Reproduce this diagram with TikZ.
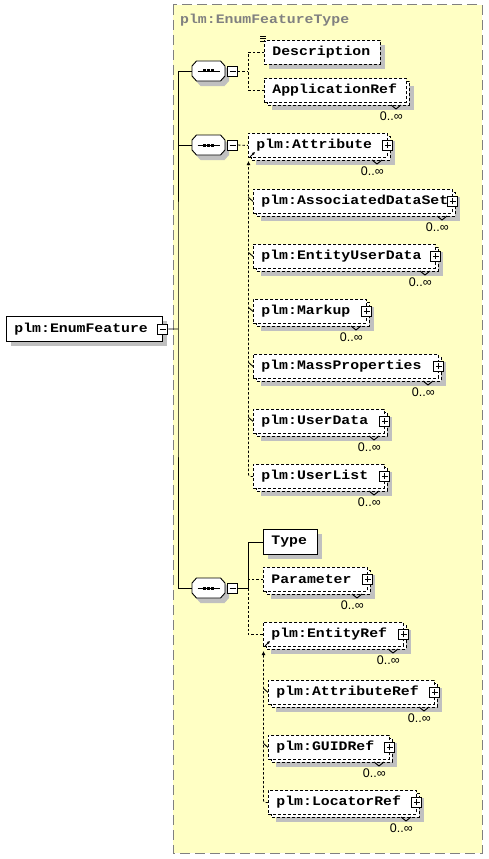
\documentclass[tikz,border=0pt]{standalone}
\usepackage{fontspec}
\usetikzlibrary{shadows,arrows.meta}
\newfontfamily\xsdfam[FakeStretch=1.14]{Liberation Mono}
\newfontfamily\occfam{Liberation Sans}
\newcommand\xsdf{\xsdfam\bfseries\fontsize{13}{14}\selectfont}
\newcommand\occf{\occfam\fontsize{12.5}{13}\selectfont}
\definecolor{yel}{HTML}{FFFFC4}
\definecolor{shadowc}{HTML}{C0C0C0}
\definecolor{bordergray}{HTML}{808080}
\tikzset{
  sconn/.style={line width=0.9pt},
  conn/.style={line width=0.9pt, dash pattern=on 2.5pt off 2pt},
  shad/.style={drop shadow={shadow xshift=5pt, shadow yshift=-5pt, fill=shadowc, opacity=1}},
  ebox/.style={draw, fill=white, line width=0.9pt, inner xsep=8pt, inner ysep=0pt, align=left, font=\xsdf, minimum height=24pt},
  optbox/.style={ebox, dash pattern=on 3pt off 2pt},
  reqbox/.style={ebox, shad},
  dbox/.style={draw, fill=white, line width=0.9pt, dash pattern=on 3pt off 2pt},
  pmbox/.style={draw, fill=white, line width=0.9pt, minimum size=10pt, inner sep=0pt},
  seqnode/.style={rectangle, minimum width=33pt, minimum height=20pt, inner sep=0pt},
  occ/.style={font=\occf, inner sep=0pt, anchor=east},
  ybox/.style={fill=yel, draw=bordergray, line width=1pt, dash pattern=on 10pt off 5pt},
  ttl/.style={font=\xsdf, text=bordergray, inner sep=0pt, anchor=base west},
  subarrow/.style={conn, rounded corners=2pt, -{Latex[length=4pt,width=4pt]}},
  refarrow/.style={sconn, -{Latex[length=3pt,width=3pt]}},
}
\newcommand\xminus[2]{%
  \node[pmbox] (#1) at (#2) {};
  \draw[sconn] ([xshift=-3pt]#1.center) -- ([xshift=3pt]#1.center);
}
\newcommand\xplus[1]{%
  \node[pmbox] (#1-pm) at (#1.east) {};
  \draw[sconn] ([xshift=-3pt]#1-pm.center) -- ([xshift=3pt]#1-pm.center)
               ([yshift=-3pt]#1-pm.center) -- ([yshift=3pt]#1-pm.center);
}
\newcommand\xmult[5]{%
  \fill[shadowc] (#2+8,#3+8) rectangle (#4+8,#3+32);
  \draw[dbox] (#2+3,#3+3) rectangle (#4+3,#3+27);
  \pgfmathsetmacro\xw{#4-#2}\pgfmathsetmacro\xtw{#4-#2-16}%
  \node[optbox, minimum width=\xw pt, text width=\xtw pt, anchor=north west] (#1) at (#2,#3) {#5};
  \draw[sconn] (#4-15,#3+27) -- (#4-10,#3+31) -- (#4-5,#3+27);
  \node[occ] (#1-occ) at (#4-3,#3+38) {0..∞};
}
\newcommand\seqsym[3]{%
  \begin{scope}[shift={(#2+4,#3+5)}]
    \fill[shadowc] (-16.5,-5) -- (-12,-10) -- (12,-10) -- (16.5,-5) -- (16.5,5) -- (12,10) -- (-12,10) -- (-16.5,5) -- cycle;
  \end{scope}
  \begin{scope}[shift={(#2,#3)}]
    \draw[sconn, fill=white] (-16.5,-5) -- (-12,-10) -- (12,-10) -- (16.5,-5) -- (16.5,5) -- (12,10) -- (-12,10) -- (-16.5,5) -- cycle;
  \end{scope}
  \node[seqnode] (#1) at (#2,#3) {};
  \draw[sconn] ([xshift=-11pt]#1.center) -- ([xshift=11pt]#1.center);
  \foreach \d in {-4,0,4} \fill ([xshift=\d pt]#1.center) +(-1.5,-1.5) rectangle +(1.5,1.5);
}
\begin{document}
\begin{tikzpicture}[x=1pt,y=-1pt]
\useasboundingbox (0,0) rectangle (488,859);
\fill[white] (0,0) rectangle (488,859);
\draw[ybox] (173,5) rectangle (482,853);
\node[ttl] (title) at (180,24) {plm:EnumFeatureType};

% root element
\node[reqbox, minimum width=156pt, text width=140pt, minimum height=25pt, anchor=north west] (EnumFeature) at (6,316) {plm:EnumFeature};
\xminus{rm}{EnumFeature.east}

% sequences
\seqsym{s1}{208.5}{71}
\xminus{m1}{232.5,71}
\seqsym{s2}{208.5}{145}
\xminus{m2}{232.5,145}
\seqsym{s3}{208.5}{588}
\xminus{m3}{232.5,588}

% first sequence children
\node[optbox, shad, minimum width=116pt, text width=100pt, anchor=north west] (Description) at (264,40) {Description};
\draw[line width=0.7pt] (260,36) -- (266,36) (260,38.5) -- (266,38.5) (260,41) -- (266,41);
\xmult{ApplicationRef}{264}{78}{406}{ApplicationRef}

% second sequence children
\xmult{Attribute}{248}{133}{387}{plm:Attribute}\xplus{Attribute}
\xmult{AssociatedDataSet}{253}{189}{452}{plm:AssociatedDataSet}\xplus{AssociatedDataSet}
\xmult{EntityUserData}{253}{244}{435}{plm:EntityUserData}\xplus{EntityUserData}
\xmult{Markup}{253}{299}{366}{plm:Markup}\xplus{Markup}
\xmult{MassProperties}{253}{354}{438}{plm:MassProperties}\xplus{MassProperties}
\xmult{UserData}{253}{409}{384}{plm:UserData}\xplus{UserData}
\xmult{UserList}{253}{464}{384}{plm:UserList}\xplus{UserList}

% third sequence children
\node[reqbox, minimum width=54pt, text width=38pt, minimum height=25pt, anchor=north west] (Type) at (263,529) {Type};
\xmult{Parameter}{263}{567}{367}{Parameter}\xplus{Parameter}
\xmult{EntityRef}{263}{622}{403}{plm:EntityRef}\xplus{EntityRef}
\xmult{AttributeRef}{268}{680}{434}{plm:AttributeRef}\xplus{AttributeRef}
\xmult{GUIDRef}{268}{735}{389}{plm:GUIDRef}\xplus{GUIDRef}
\xmult{LocatorRef}{268}{790}{416}{plm:LocatorRef}\xplus{LocatorRef}

% spine
\coordinate (sp) at (178,329);
\draw[sconn] (rm.east) -- (sp);
\draw[sconn] (s1.west) -| (sp) |- (s3.west);
\draw[sconn] (s2.west) -- (s2.west -| sp);

% sequence 1 connectors
\coordinate (b1) at (248,71);
\draw[conn] (m1.east) -- (b1);
\draw[conn] (Description.west) -| (b1) |- (ApplicationRef.west);

% sequence 2 connectors
\draw[conn] (m2.east) -- (Attribute.west);
\coordinate (g1) at (248.5,161);
\draw[subarrow] (UserList.west) -| (g1);
\foreach \n in {AssociatedDataSet,EntityUserData,Markup,MassProperties,UserData}
  \draw[sconn] ([yshift=4pt]\n.west -| g1) -- (\n.west);
\draw[refarrow] ([shift={(2,-1)}]Attribute.south west) -- ++(5,-5);

% sequence 3 connectors
\coordinate (b3) at (248,588);
\draw[conn] (Parameter.west) -| (b3);
\draw[conn] (b3) |- (EntityRef.west);
\draw[sconn] (m3.east) -- (b3) |- (Type.west);
\coordinate (g3) at (263.5,651);
\draw[subarrow] (LocatorRef.west) -| (g3);
\foreach \n in {AttributeRef,GUIDRef}
  \draw[sconn] ([yshift=4pt]\n.west -| g3) -- (\n.west);
\draw[refarrow] ([shift={(2,-1)}]EntityRef.south west) -- ++(5,-5);
\end{tikzpicture}
\end{document}
